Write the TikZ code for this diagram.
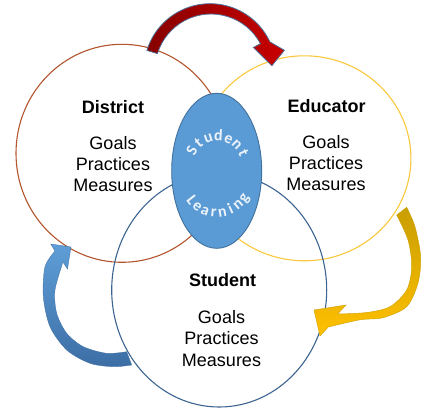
\documentclass[tikz,border=0pt]{standalone}
\usepackage{fontspec}
\setmainfont{Liberation Sans}
\newfontfamily\arcfont{Carlito}
\usetikzlibrary{calc}
\usetikzlibrary{shapes.geometric}

\definecolor{districtline}{RGB}{178,84,44}
\definecolor{educatorline}{RGB}{250,200,60}
\definecolor{studentline}{RGB}{60,100,145}
\definecolor{learnfill}{RGB}{91,155,213}
\definecolor{learnline}{RGB}{65,113,156}
\definecolor{reddark}{RGB}{135,0,0}
\definecolor{redlight}{RGB}{200,0,0}
\definecolor{redrim}{RGB}{80,115,155}
\definecolor{golddark}{RGB}{200,158,0}
\definecolor{goldlight}{RGB}{255,192,0}
\definecolor{goldrim}{RGB}{205,160,0}
\definecolor{bluedark}{RGB}{60,110,165}
\definecolor{bluelight}{RGB}{95,158,215}
\definecolor{letterwhite}{RGB}{235,242,250}

\tikzset{
  ring/.style={ellipse, draw, line width=1.1pt, inner sep=0pt},
  title/.style={font=\bfseries\fontsize{18}{21}\selectfont},
  items/.style={align=center, font=\fontsize{18}{21}\selectfont},
  arc letter/.style={anchor=base, inner sep=0pt, text=letterwhite, font=\arcfont\bfseries\fontsize{16}{16}\selectfont},
  red arrow/.style={draw=redrim, line width=0.8pt, left color=reddark, right color=redlight},
  gold arrow/.style={draw=goldrim, line width=0.4pt, top color=golddark, bottom color=goldlight},
  blue arrow/.style={draw=bluedark, line width=0.3pt, top color=bluelight, bottom color=bluedark},
}

\begin{document}
\begin{tikzpicture}[x=1pt,y=1pt]
    \useasboundingbox (0,0) rectangle (428,408);

    \node[ring, draw=districtline, minimum width=212pt, minimum height=218pt] at (122,254.7) (district) {};
    \node[ring, draw=educatorline, minimum width=213pt, minimum height=205pt] at (304.4,249.7) (educator) {};
    \node[ring, draw=studentline, minimum width=215pt, minimum height=234pt] at (219.2,118) (student) {};

    \begin{scope}[shift={(211,338)}]
        \draw[red arrow] (163:67pt) arc[start angle=163, end angle=25, radius=66pt] -- (15:76pt) -- (4:61pt) -- (28:48pt) -- (28:56pt) arc[start angle=28, end angle=163, radius=56pt] -- cycle;
    \end{scope}

    \draw[gold arrow] plot[smooth] coordinates {(406.7,200.7) (415,181.3) (420.7,151.3) (418,125) (406.7,101.3) (383,90.3) (360,88.2) (328.3,81)}
        -- (320,72) -- (314,98) -- (346,103) -- (337.7,94)
        -- plot[smooth] coordinates {(337.7,94) (366.7,95.5) (390,101.3) (406.7,118) (411.7,141.3) (408,168) (396.7,193)} -- cycle;

    \draw[blue arrow] plot[smooth] coordinates {(126.7,56.3) (106.7,54.7) (83.3,61.3) (66.7,74.7) (56.7,94.7) (55,118) (63,146)}
        -- (67.5,139) -- (71,161) -- (50.7,164) -- (55,157)
        -- plot[smooth] coordinates {(55,157) (45,141.3) (43.3,111.3) (50,81.3) (66.7,58) (90,44.7) (113.3,41.3) (131.7,43)} -- cycle;

    \node[ellipse, draw=learnline, fill=learnfill, line width=0.9pt, minimum width=90pt, minimum height=155pt, inner sep=0pt] at (216.7,237.2) (learning) {};
    \coordinate (upper arc) at (217,243);
    \coordinate (lower arc) at (217,228);

    \foreach \ch [count=\i] in {S,t,u,d,e,n,t} {
        \pgfmathsetmacro\ang{150-(\i-1)*21}
        \pgfmathsetmacro\rot{\ang-90}
        \node[arc letter, rotate=\rot] at ($(upper arc)+(\ang:24pt)$) {\ch};
    }
    \foreach \ch [count=\i] in {L,e,a,r,n,i,n,g} {
        \pgfmathsetmacro\ang{218+(\i-1)*15.4}
        \pgfmathsetmacro\rot{\ang+90}
        \node[arc letter, rotate=\rot] at ($(lower arc)+(\ang:37pt)$) {\ch};
    }

    \node[title] at (113,300.7) (districttitle) {District};
    \node[items] at (113,243.7) (districtitems) {Goals\\Practices\\Measures};

    \node[title] at (326.7,302) (educatortitle) {Educator};
    \node[items] at (326,245.3) (educatoritems) {Goals\\Practices\\Measures};

    \node[title] at (222.7,128) (studenttitle) {Student};
    \node[items, font=\fontsize{18}{21.5}\selectfont] at (221.5,69.7) (studentitems) {Goals\\Practices\\Measures};
\end{tikzpicture}
\end{document}
